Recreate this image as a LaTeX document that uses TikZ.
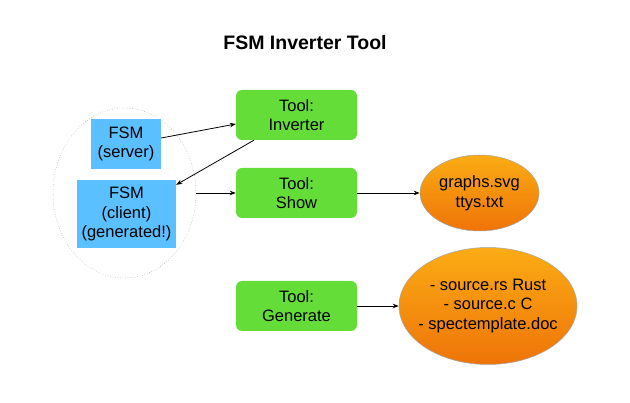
\documentclass[tikz,border=0pt]{standalone}
\usepackage{fontspec}
\setmainfont{Liberation Sans}
\usetikzlibrary{arrows.meta,shapes.geometric}
\definecolor{toolgreen}{RGB}{101,221,57}
\definecolor{fsmblue}{RGB}{91,192,255}
\definecolor{orangetop}{RGB}{251,172,20}
\definecolor{orangebot}{RGB}{238,116,8}
\begin{document}
\begin{tikzpicture}[x=1pt,y=-1pt,
  txt/.style={font=\fontsize{16.5}{19.5}\selectfont, align=center, text=black},
  titletxt/.style={font=\fontsize{19.5}{22}\selectfont\bfseries, text=black},
  toolbox/.style={txt, fill=toolgreen, rounded corners=6pt, minimum width=121pt, minimum height=50pt, inner sep=0pt},
  fsmbox/.style={txt, fill=fsmblue, inner sep=0pt},
  outell/.style={ellipse, draw=gray!70, line width=0.5pt, top color=orangetop, bottom color=orangebot, inner sep=0pt},
  groupell/.style={ellipse, draw=gray!80, dotted, line width=0.5pt, inner sep=0pt},
  conn/.style={-{Stealth[length=6pt,width=4.5pt]}, line width=0.8pt, draw=black}
]
\useasboundingbox (0,0) rectangle (630,403);
\node[titletxt] (title) at (305,43) {FSM Inverter Tool};
\node[groupell, minimum width=143pt, minimum height=170pt] (group) at (124.5,193) {};
\node[fsmbox, minimum width=70pt, minimum height=50pt] (server) at (126,144) {FSM\\(server)};
\node[fsmbox, minimum width=99pt, minimum height=68pt] (client) at (126.5,214) {FSM\\(client)\\(generated!)};
\node[toolbox] (inv) at (296.5,115) {Tool:\\Inverter};
\node[toolbox] (show) at (296.5,193) {Tool:\\Show};
\node[toolbox] (gen) at (296.5,306) {Tool:\\Generate};
\node[outell, minimum width=119pt, minimum height=76pt] (graphs) at (479.5,193) {};
\node[txt] (graphs-t) at (graphs.center) {graphs.svg\\ttys.txt};
\node[outell, minimum width=178pt, minimum height=117pt] (src) at (488,306) {};
\node[txt] (src-t) at (src.center) {- source.rs Rust\\- source.c C\\- spectemplate.doc};
\draw[conn] ([yshift=6pt]server.east) -- ([yshift=-9pt]inv.west);
\draw[conn] ([xshift=-42.5pt]inv.south) -- ([yshift=-5pt]client.north east);
\draw[conn] (group.east) -- (show.west);
\draw[conn] (show.east) -- (graphs.west);
\draw[conn] (gen.east) -- (src.west);
\end{tikzpicture}
\end{document}
